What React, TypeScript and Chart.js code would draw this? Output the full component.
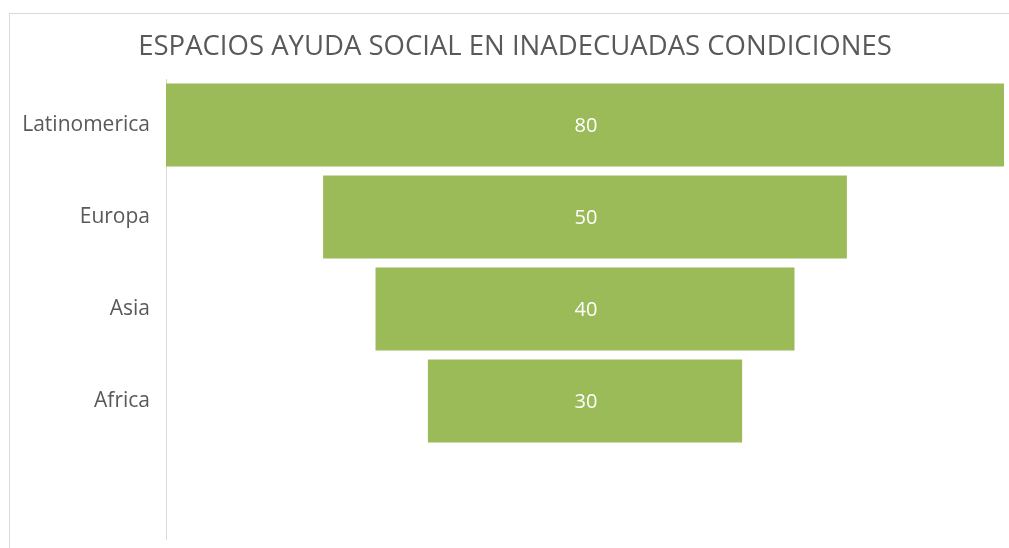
import React, { useEffect, useRef } from "react";
import { Chart, registerables } from "chart.js";

Chart.register(...registerables);

const categories = ["Latinomerica", "Europa", "Asia", "Africa", ""];
const values: (number | null)[] = [80, 50, 40, 30, null];
const titleText = "ESPACIOS AYUDA SOCIAL EN INADECUADAS CONDICIONES";
const maxValue = 80;

const FONT = "'Open Sans', Lato, sans-serif";

export default function App() {
  const ref = useRef<HTMLCanvasElement | null>(null);

  useEffect(() => {
    const canvas = ref.current;
    if (!canvas) return;

    const framePlugin = {
      id: "frame",
      afterLayout(chart: any) {
        const t = chart.titleBlock;
        if (t) {
          t.left += 8.5;
          t.right += 8.5;
        }
      },
      beforeDraw(chart: any) {
        const { ctx } = chart;
        ctx.save();
        ctx.fillStyle = "#ffffff";
        ctx.fillRect(0, 0, chart.width, chart.height);
        ctx.strokeStyle = "#d9d9d9";
        ctx.lineWidth = 1;
        ctx.strokeRect(9.5, 13.5, chart.width + 50, chart.height + 50);
        ctx.restore();
      },
    };

    const labelPlugin = {
      id: "centerLabels",
      afterDatasetsDraw(chart: any) {
        const { ctx } = chart;
        const meta = chart.getDatasetMeta(0);
        ctx.save();
        ctx.fillStyle = "#ffffff";
        ctx.font = `20px ${FONT}`;
        ctx.textAlign = "center";
        ctx.textBaseline = "middle";
        meta.data.forEach((bar: any, i: number) => {
          const v = values[i];
          if (v == null) return;
          const x = chart.scales.x.getPixelForValue(0);
          ctx.fillText(String(v), x + 1, bar.y + 1);
        });
        ctx.restore();
      },
    };

    const chart = new Chart(canvas, {
      type: "bar",
      data: {
        labels: categories,
        datasets: [
          {
            data: values.map((v) => (v == null ? null : [-v / 2, v / 2])) as any,
            backgroundColor: "#9bbb59",
            borderWidth: 0,
            categoryPercentage: 1,
            barPercentage: 0.9,
          },
        ],
      },
      options: {
        indexAxis: "y",
        animation: false,
        responsive: false,
        layout: { padding: { left: 9, right: 5, top: 0, bottom: 9 } },
        plugins: {
          legend: { display: false },
          tooltip: { enabled: false },
          title: {
            display: true,
            text: titleText,
            color: "#595959",
            font: { family: FONT, size: 27.5, weight: "normal", lineHeight: 1.2 },
            padding: { top: 30.5, bottom: 15.5 },
          },
        },
        scales: {
          x: {
            display: false,
            min: -maxValue / 2,
            max: maxValue / 2,
          },
          y: {
            grid: { display: false, drawTicks: false },
            border: { display: true, color: "#d9d9d9", width: 1 },
            ticks: {
              color: "#595959",
              font: { family: FONT, size: 21 },
              padding: 16,
            },
            afterFit(scale: any) {
              scale.width = 157;
              scale.paddingTop = 0;
              scale.paddingBottom = 0;
            },
          },
        },
      },
      plugins: [framePlugin, labelPlugin],
    });

    return () => chart.destroy();
  }, []);

  return (
    <div style={{ position: "fixed", left: 0, top: 0, width: 1009, height: 548 }}>
      <canvas ref={ref} width={1009} height={548} style={{ display: "block" }} />
    </div>
  );
}
